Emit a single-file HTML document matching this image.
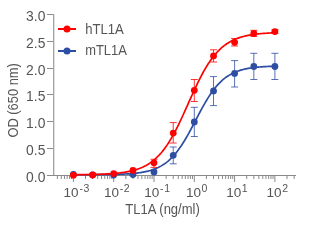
<!DOCTYPE html>
<html><head><meta charset="utf-8"><style>html,body{margin:0;padding:0;background:#fff;width:312px;height:230px;overflow:hidden;position:relative}</style></head>
<body>
<svg width="312" height="230" viewBox="0 0 312 230" style="position:absolute;left:0;top:0;will-change:transform">
<g stroke="#8a8a8a" stroke-width="1" fill="none" shape-rendering="crispEdges">
<line x1="53" y1="175.5" x2="296" y2="175.5"/>
<line x1="47" y1="175.5" x2="53" y2="175.5"/>
<line x1="47" y1="148.5" x2="53" y2="148.5"/>
<line x1="47" y1="121.5" x2="53" y2="121.5"/>
<line x1="47" y1="94.5" x2="53" y2="94.5"/>
<line x1="47" y1="68.5" x2="53" y2="68.5"/>
<line x1="47" y1="41.5" x2="53" y2="41.5"/>
<line x1="47" y1="14.5" x2="53" y2="14.5"/>
</g>
<path d="M57.36 176V179M61.27 176V179M64.46 176V179M67.16 176V179M69.49 176V179M71.56 176V179M73.40 176V182M85.53 176V179M92.63 176V179M97.66 176V179M101.57 176V179M104.76 176V179M107.46 176V179M109.79 176V179M111.86 176V179M113.70 176V182M125.83 176V179M132.93 176V179M137.96 176V179M141.87 176V179M145.06 176V179M147.76 176V179M150.09 176V179M152.16 176V179M154.00 176V182M166.13 176V179M173.23 176V179M178.26 176V179M182.17 176V179M185.36 176V179M188.06 176V179M190.39 176V179M192.46 176V179M194.30 176V182M206.43 176V179M213.53 176V179M218.56 176V179M222.47 176V179M225.66 176V179M228.36 176V179M230.69 176V179M232.76 176V179M234.60 176V182M246.73 176V179M253.83 176V179M258.86 176V179M262.77 176V179M265.96 176V179M268.66 176V179M270.99 176V179M273.06 176V179M274.90 176V182M287.03 176V179M294.13 176V179" stroke="#8a8a8a" stroke-width="1" fill="none"/>
<line x1="53.75" y1="14" x2="53.75" y2="176" stroke="#8a8a8a" stroke-width="1.05"/>
<g font-family="Liberation Sans" font-size="14.2" fill="#555555">
<text x="26.1" y="181.8" textLength="19.3" lengthAdjust="spacingAndGlyphs">0.0</text>
<text x="26.1" y="155.0" textLength="19.3" lengthAdjust="spacingAndGlyphs">0.5</text>
<text x="26.1" y="128.1" textLength="19.3" lengthAdjust="spacingAndGlyphs">1.0</text>
<text x="26.1" y="101.3" textLength="19.3" lengthAdjust="spacingAndGlyphs">1.5</text>
<text x="26.1" y="74.5" textLength="19.3" lengthAdjust="spacingAndGlyphs">2.0</text>
<text x="26.1" y="47.6" textLength="19.3" lengthAdjust="spacingAndGlyphs">2.5</text>
<text x="26.1" y="20.8" textLength="19.3" lengthAdjust="spacingAndGlyphs">3.0</text>
</g>
<g font-family="Liberation Sans" fill="#555555">
<text x="63.6" y="197" font-size="13.5">10<tspan dx="0.8" dy="-5.5" font-size="10.5" letter-spacing="0.6">-</tspan><tspan font-size="10.5">3</tspan></text>
<text x="103.9" y="197" font-size="13.5">10<tspan dx="0.8" dy="-5.5" font-size="10.5" letter-spacing="0.6">-</tspan><tspan font-size="10.5">2</tspan></text>
<text x="144.2" y="197" font-size="13.5">10<tspan dx="0.8" dy="-5.5" font-size="10.5" letter-spacing="0.6">-</tspan><tspan font-size="10.5">1</tspan></text>
<text x="185.9" y="197" font-size="13.5">10<tspan dx="0.6" dy="-5.4" font-size="10.5">0</tspan></text>
<text x="226.2" y="197" font-size="13.5">10<tspan dx="0.6" dy="-5.4" font-size="10.5">1</tspan></text>
<text x="266.5" y="197" font-size="13.5">10<tspan dx="0.6" dy="-5.4" font-size="10.5">2</tspan></text>
</g>
<text x="125.3" y="213.8" font-family="Liberation Sans" font-size="14.2" fill="#555555" textLength="74.5" lengthAdjust="spacingAndGlyphs">TL1A (ng/ml)</text>
<text transform="translate(18.3,137.6) rotate(-90)" font-family="Liberation Sans" font-size="14.3" fill="#555555" textLength="74.5" lengthAdjust="spacingAndGlyphs">OD (650 nm)</text>
<line x1="58" y1="29" x2="76" y2="29" stroke="#ff0000" stroke-width="2"/><circle cx="67" cy="29" r="3.5" fill="#ff0000"/>
<line x1="58" y1="51" x2="76" y2="51" stroke="#2d4ea3" stroke-width="2"/><circle cx="67" cy="51" r="3.5" fill="#2d4ea3"/>
<text x="85.2" y="33.8" font-family="Liberation Sans" font-size="14" fill="#555555" textLength="38.6" lengthAdjust="spacingAndGlyphs">hTL1A</text>
<text x="85.2" y="54.8" font-family="Liberation Sans" font-size="14" fill="#555555" textLength="41.6" lengthAdjust="spacingAndGlyphs">mTL1A</text>
<g stroke="#2d4ea3" stroke-width="1" stroke-opacity="0.8" fill="none"><path d="M173.23 147.0V163.8M169.73 147.0H176.73M169.73 163.8H176.73"/></g>
<g stroke="#2d4ea3" stroke-width="1" stroke-opacity="0.8" fill="none"><path d="M194.30 107.3V136.5M190.80 107.3H197.80M190.80 136.5H197.80"/></g>
<g stroke="#2d4ea3" stroke-width="1" stroke-opacity="0.8" fill="none"><path d="M213.53 76.6V105.6M210.03 76.6H217.03M210.03 105.6H217.03"/></g>
<g stroke="#2d4ea3" stroke-width="1" stroke-opacity="0.8" fill="none"><path d="M234.60 60.6V87.0M231.10 60.6H238.10M231.10 87.0H238.10"/></g>
<g stroke="#2d4ea3" stroke-width="1" stroke-opacity="0.8" fill="none"><path d="M253.83 53.3V79.5M250.33 53.3H257.33M250.33 79.5H257.33"/></g>
<g stroke="#2d4ea3" stroke-width="1" stroke-opacity="0.8" fill="none"><path d="M274.90 53.3V79.5M271.40 53.3H278.40M271.40 79.5H278.40"/></g>
<polyline points="73.40,174.77 74.67,174.76 75.93,174.76 77.20,174.76 78.47,174.76 79.74,174.75 81.00,174.75 82.27,174.75 83.54,174.74 84.81,174.74 86.07,174.74 87.34,174.73 88.61,174.73 89.87,174.72 91.14,174.72 92.41,174.71 93.68,174.70 94.94,174.69 96.21,174.69 97.48,174.68 98.75,174.67 100.01,174.66 101.28,174.64 102.55,174.63 103.82,174.62 105.08,174.60 106.35,174.58 107.62,174.56 108.88,174.54 110.15,174.52 111.42,174.50 112.69,174.47 113.95,174.44 115.22,174.41 116.49,174.37 117.76,174.33 119.02,174.29 120.29,174.25 121.56,174.20 122.82,174.14 124.09,174.08 125.36,174.02 126.63,173.95 127.89,173.87 129.16,173.78 130.43,173.69 131.70,173.59 132.96,173.48 134.23,173.36 135.50,173.23 136.76,173.09 138.03,172.93 139.30,172.76 140.57,172.57 141.83,172.37 143.10,172.15 144.37,171.91 145.64,171.65 146.90,171.37 148.17,171.06 149.44,170.73 150.71,170.37 151.97,169.97 153.24,169.54 154.51,169.08 155.77,168.58 157.04,168.03 158.31,167.45 159.58,166.81 160.84,166.13 162.11,165.39 163.38,164.59 164.65,163.74 165.91,162.82 167.18,161.84 168.45,160.79 169.71,159.66 170.98,158.46 172.25,157.18 173.52,155.83 174.78,154.39 176.05,152.87 177.32,151.27 178.59,149.58 179.85,147.81 181.12,145.96 182.39,144.03 183.65,142.02 184.92,139.94 186.19,137.79 187.46,135.58 188.72,133.31 189.99,131.00 191.26,128.64 192.53,126.26 193.79,123.84 195.06,121.42 196.33,118.99 197.59,116.56 198.86,114.15 200.13,111.77 201.40,109.41 202.66,107.10 203.93,104.84 205.20,102.63 206.47,100.49 207.73,98.41 209.00,96.41 210.27,94.49 211.54,92.64 212.80,90.88 214.07,89.19 215.34,87.60 216.60,86.08 217.87,84.65 219.14,83.30 220.41,82.03 221.67,80.83 222.94,79.71 224.21,78.66 225.48,77.69 226.74,76.77 228.01,75.92 229.28,75.13 230.54,74.40 231.81,73.72 233.08,73.08 234.35,72.50 235.61,71.96 236.88,71.46 238.15,71.00 239.42,70.57 240.68,70.18 241.95,69.82 243.22,69.49 244.48,69.18 245.75,68.90 247.02,68.64 248.29,68.40 249.55,68.19 250.82,67.99 252.09,67.80 253.36,67.63 254.62,67.48 255.89,67.34 257.16,67.21 258.43,67.09 259.69,66.98 260.96,66.88 262.23,66.78 263.49,66.70 264.76,66.62 266.03,66.55 267.30,66.49 268.56,66.43 269.83,66.37 271.10,66.32 272.37,66.28 273.63,66.24 274.90,66.20" fill="none" stroke="#2d4ea3" stroke-width="1.7"/>
<circle cx="73.40" cy="174.4" r="3.4" fill="#2d4ea3"/>
<circle cx="92.63" cy="174.8" r="3.4" fill="#2d4ea3"/>
<circle cx="113.70" cy="175.0" r="3.4" fill="#2d4ea3"/>
<circle cx="132.93" cy="174.6" r="3.4" fill="#2d4ea3"/>
<circle cx="154.00" cy="172.0" r="3.4" fill="#2d4ea3"/>
<circle cx="173.23" cy="155.3" r="3.4" fill="#2d4ea3"/>
<circle cx="194.30" cy="122.0" r="3.4" fill="#2d4ea3"/>
<circle cx="213.53" cy="90.9" r="3.4" fill="#2d4ea3"/>
<circle cx="234.60" cy="73.4" r="3.4" fill="#2d4ea3"/>
<circle cx="253.83" cy="66.5" r="3.4" fill="#2d4ea3"/>
<circle cx="274.90" cy="66.5" r="3.4" fill="#2d4ea3"/>
<g stroke="#ff0000" stroke-width="1" stroke-opacity="0.8" fill="none"><path d="M154.00 159.3V167.4M150.50 159.3H157.50M150.50 167.4H157.50"/></g>
<g stroke="#ff0000" stroke-width="1" stroke-opacity="0.8" fill="none"><path d="M173.23 122.6V143.0M169.73 122.6H176.73M169.73 143.0H176.73"/></g>
<g stroke="#ff0000" stroke-width="1" stroke-opacity="0.8" fill="none"><path d="M194.30 79.5V101.5M190.80 79.5H197.80M190.80 101.5H197.80"/></g>
<g stroke="#ff0000" stroke-width="1" stroke-opacity="0.8" fill="none"><path d="M213.53 49.8V62.0M210.03 49.8H217.03M210.03 62.0H217.03"/></g>
<g stroke="#ff0000" stroke-width="1" stroke-opacity="0.8" fill="none"><path d="M234.60 38.5V46.0M231.10 38.5H238.10M231.10 46.0H238.10"/></g>
<g stroke="#ff0000" stroke-width="1" stroke-opacity="0.8" fill="none"><path d="M253.83 30.3V36.4M250.33 30.3H257.33M250.33 36.4H257.33"/></g>
<g stroke="#ff0000" stroke-width="1" stroke-opacity="0.8" fill="none"><path d="M274.90 29.8V33.5M271.40 29.8H278.40M271.40 33.5H278.40"/></g>
<polyline points="73.40,174.68 74.67,174.67 75.93,174.66 77.20,174.65 78.47,174.64 79.74,174.63 81.00,174.62 82.27,174.60 83.54,174.59 84.81,174.57 86.07,174.56 87.34,174.54 88.61,174.52 89.87,174.49 91.14,174.47 92.41,174.44 93.68,174.41 94.94,174.38 96.21,174.35 97.48,174.31 98.75,174.28 100.01,174.23 101.28,174.19 102.55,174.14 103.82,174.09 105.08,174.03 106.35,173.96 107.62,173.90 108.88,173.82 110.15,173.74 111.42,173.66 112.69,173.57 113.95,173.47 115.22,173.36 116.49,173.24 117.76,173.11 119.02,172.98 120.29,172.83 121.56,172.67 122.82,172.50 124.09,172.31 125.36,172.11 126.63,171.89 127.89,171.66 129.16,171.40 130.43,171.13 131.70,170.83 132.96,170.52 134.23,170.17 135.50,169.80 136.76,169.41 138.03,168.98 139.30,168.52 140.57,168.02 141.83,167.49 143.10,166.92 144.37,166.30 145.64,165.65 146.90,164.94 148.17,164.18 149.44,163.37 150.71,162.51 151.97,161.58 153.24,160.60 154.51,159.55 155.77,158.43 157.04,157.24 158.31,155.97 159.58,154.63 160.84,153.21 162.11,151.71 163.38,150.13 164.65,148.46 165.91,146.71 167.18,144.87 168.45,142.94 169.71,140.92 170.98,138.82 172.25,136.64 173.52,134.37 174.78,132.02 176.05,129.60 177.32,127.10 178.59,124.54 179.85,121.92 181.12,119.24 182.39,116.51 183.65,113.75 184.92,110.95 186.19,108.13 187.46,105.29 188.72,102.45 189.99,99.61 191.26,96.79 192.53,93.98 193.79,91.21 195.06,88.47 196.33,85.78 197.59,83.14 198.86,80.56 200.13,78.04 201.40,75.60 202.66,73.23 203.93,70.94 205.20,68.73 206.47,66.60 207.73,64.57 209.00,62.61 210.27,60.75 211.54,58.97 212.80,57.28 214.07,55.67 215.34,54.15 216.60,52.71 217.87,51.34 219.14,50.06 220.41,48.85 221.67,47.71 222.94,46.64 224.21,45.64 225.48,44.69 226.74,43.81 228.01,42.99 229.28,42.22 230.54,41.50 231.81,40.83 233.08,40.20 234.35,39.62 235.61,39.07 236.88,38.57 238.15,38.10 239.42,37.66 240.68,37.26 241.95,36.88 243.22,36.53 244.48,36.20 245.75,35.90 247.02,35.62 248.29,35.36 249.55,35.12 250.82,34.90 252.09,34.70 253.36,34.51 254.62,34.33 255.89,34.17 257.16,34.01 258.43,33.87 259.69,33.75 260.96,33.63 262.23,33.51 263.49,33.41 264.76,33.32 266.03,33.23 267.30,33.15 268.56,33.07 269.83,33.01 271.10,32.94 272.37,32.88 273.63,32.83 274.90,32.78" fill="none" stroke="#ff0000" stroke-width="1.7"/>
<circle cx="73.40" cy="175.2" r="3.4" fill="#ff0000"/>
<circle cx="92.63" cy="175.0" r="3.4" fill="#ff0000"/>
<circle cx="113.70" cy="173.6" r="3.4" fill="#ff0000"/>
<circle cx="132.93" cy="170.4" r="3.4" fill="#ff0000"/>
<circle cx="154.00" cy="162.8" r="3.4" fill="#ff0000"/>
<circle cx="173.23" cy="133.1" r="3.4" fill="#ff0000"/>
<circle cx="194.30" cy="90.3" r="3.4" fill="#ff0000"/>
<circle cx="213.53" cy="55.9" r="3.4" fill="#ff0000"/>
<circle cx="234.60" cy="42.3" r="3.4" fill="#ff0000"/>
<circle cx="253.83" cy="33.4" r="3.4" fill="#ff0000"/>
<circle cx="274.90" cy="31.6" r="3.4" fill="#ff0000"/>
</svg>
</body></html>
